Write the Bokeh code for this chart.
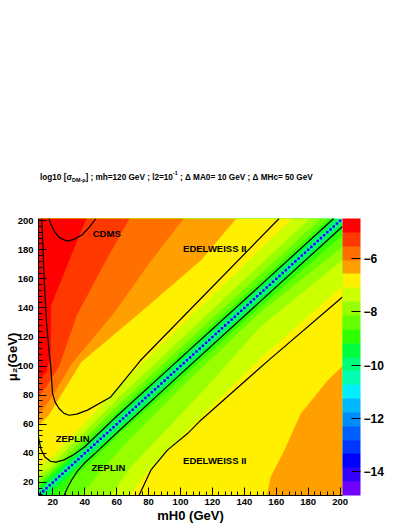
from bokeh.plotting import figure
from bokeh.layouts import column
from bokeh.models import (ColumnDataSource, LinearColorMapper, ColorBar, FixedTicker,
                          SingleIntervalTicker, Div)
from bokeh.transform import transform
from bokeh.core.properties import value
from bokeh.embed import file_html
from bokeh.resources import INLINE

FONT = "Liberation Sans"

# ---------------------------------------------------------------- data
mass_lo, mass_hi = 11.0, 201.5           # histogram edges (GeV) on both axes
z_low, z_high = -14.88, -4.51            # log10(sigma) range of the colour scale
n_contours = 20
palette = ["#7000ff", "#3300ff", "#0000ff", "#0036ff", "#0060ff", "#008cff",
           "#00b8ff", "#00f0ff", "#00ffb0", "#00ff78", "#00ff3c", "#30ff00",
           "#66ff00", "#99ff00", "#ccff00", "#fff000", "#ffa000", "#ff7000",
           "#ff3800", "#ff0000"]
cbar_ticks = [-14, -12, -10, -8, -6]

# contour-band boundaries above the diagonal (mH0, mu2), outermost first
upper_b1 = [(41, 201.5), (30, 172), (19, 142), (18.5, 108), (16, 96), (11, 91)]
upper_b2 = [(68, 201.5), (52, 170), (35, 135), (24, 100), (16, 86), (11, 79)]
upper_b3 = [(102, 201.5), (80, 170), (58, 136), (32, 102), (19, 78), (11, 66)]
upper_b4 = [(135, 201.5), (113, 173), (75, 137), (38, 103), (24, 78), (18, 67), (11, 59)]
upper_b5 = [(170, 201.5), (110, 138), (60, 85), (35, 55), (20, 38), (11, 31)]
upper_b6 = [(181, 201.5), (120, 139), (60, 77), (30, 44), (18, 30), (11, 25)]
upper_b7 = [(188, 201.5), (120, 133), (60, 72), (30, 40), (18, 27), (11, 21.5)]
upper_b8 = [(193, 201.5), (120, 128.5), (60, 68), (30, 37), (11, 18)]
upper_b9 = [(196.5, 201.5), (120, 125.5), (60, 65.5), (30, 35), (11, 15.5)]
upper_b10 = [(199, 201.5), (120, 123), (11, 13.5)]
upper_bounds = [upper_b1, upper_b2, upper_b3, upper_b4, upper_b5,
                upper_b6, upper_b7, upper_b8, upper_b9, upper_b10]
upper_band = [19, 18, 17, 16, 15, 14, 13, 12, 11, 10]   # band outside each boundary

# contour-band boundaries below the diagonal (mH0, mu2), outermost first
lower_b4 = [(154, 11), (156.6, 24), (165, 42), (175.4, 67.4), (192, 90), (201.5, 100)]
lower_b5 = [(68, 11), (80, 28), (95, 45), (110, 62), (150, 105), (201.5, 155)]
lower_b6 = [(56, 11), (70, 32), (90, 55), (120, 90), (150, 127), (201.5, 173)]
lower_b7 = [(38, 11), (50, 28), (70, 52), (100, 85), (150, 137), (201.5, 182)]
lower_b8 = [(24, 11), (35, 25), (60, 51.5), (100, 91), (150, 141), (201.5, 190)]
lower_b9 = [(17, 11), (30, 25), (60, 55), (201.5, 195)]
lower_b10 = [(14, 11), (201.5, 198.5)]
lower_bounds = [lower_b4, lower_b5, lower_b6, lower_b7, lower_b8, lower_b9, lower_b10]
lower_band = [16, 15, 14, 13, 12, 11, 10]
core_band = 9

# cells on the diagonal mu2 = mH0 (2 GeV bins) and their value
diag_mass = list(range(12, 201, 2))
diag_z = [-14.3] * len(diag_mass)

# experimental limits (mH0, mu2)
cdms = [(17.5, 201.5), (19, 197), (21, 192.5), (24, 188.5), (28.5, 186), (33, 187),
        (38, 190), (42.5, 195), (47, 201.5)]
edelweiss_up = [(13, 201.5), (13.5, 190), (14.5, 161), (16, 130), (17.5, 112), (18.7, 99.4),
                (19.8, 81.2), (21.5, 75), (23.9, 70.8), (27, 67.5), (30.2, 66.2), (35, 67),
                (41.7, 69.7), (56.3, 78.8), (75, 104), (112.8, 146.5), (161.8, 201.5)]
edelweiss_lo = [(74, 11), (77, 18), (81.4, 28.4), (91.8, 42.2), (104.4, 53.6),
                (112.7, 62.8), (155.5, 104.3), (201.5, 147.5)]
zeplin_up = [(11, 51), (12.5, 43), (15, 37.5), (18.5, 34.5), (22, 34), (27, 35.5),
             (33, 39), (40, 44.5), (60, 65.5), (100, 105.5), (150, 155.5), (196, 201.5)]
zeplin_lo = [(27, 11), (29, 16), (32, 22), (35.5, 28), (40, 33.5), (47, 40.5), (60, 54),
             (100, 94.5), (150, 144.5), (201.5, 196)]

limit_names = ["CDMS", "EDELWEISS II", "ZEPLIN", "ZEPLIN", "EDELWEISS II"]
limit_label_x = [45.0, 101.6, 21.8, 44.2, 101.6]
limit_label_y = [191.0, 180.9, 50.2, 30.3, 35.3]

# ---------------------------------------------------------------- layout sizes
W = 384
TH = 200                    # height of the title strip
FW, FH = 304, 277
BL, BT = 38, 18

# ---------------------------------------------------------------- title strip
sub_css = "font-size:5.4px;vertical-align:-1.9px;line-height:0"
sup_css = "font-size:5.4px;vertical-align:5.1px;line-height:0"
title_html = (
    '<div style="padding:172.9px 0 0 40px;margin:0;font-family:\'Liberation Sans\';'
    'font-weight:bold;font-size:8.2px;line-height:10px;white-space:nowrap;color:black">'
    'log10 [σ<span style="' + sub_css + '">DM-p</span>] ; mh=120 GeV ; l2=10'
    '<span style="' + sup_css + '">-1</span> ; Δ MA0= 10 GeV ; Δ MHc= 50 GeV</div>'
)
title_div = Div(text=title_html, width=W, height=TH, margin=0)

# ---------------------------------------------------------------- main plot
p = figure(frame_width=FW, frame_height=FH, x_range=(mass_lo, mass_hi),
           y_range=(mass_lo, mass_hi), output_backend="svg", toolbar_location=None,
           min_border_left=BL, min_border_top=BT, min_border_right=10, min_border_bottom=10)
p.background_fill_color = "white"
p.border_fill_color = "white"
p.outline_line_color = None
p.xgrid.visible = False
p.ygrid.visible = False

mapper = LinearColorMapper(palette=palette, low=z_low, high=z_high)
step = (z_high - z_low) / n_contours


def band_z(i):
    return z_low + (i + 0.5) * step


xs, ys, zs = [], [], []
# the whole frame starts in the band around the diagonal
xs.append([mass_lo, mass_hi, mass_hi, mass_lo])
ys.append([mass_lo, mass_lo, mass_hi, mass_hi])
zs.append(band_z(core_band))
for bound, band in reversed(list(zip(upper_bounds, upper_band))):
    xs.append([pt[0] for pt in bound] + [mass_lo])
    ys.append([pt[1] for pt in bound] + [mass_hi])
    zs.append(band_z(band))
for bound, band in reversed(list(zip(lower_bounds, lower_band))):
    xs.append([pt[0] for pt in bound] + [mass_hi])
    ys.append([pt[1] for pt in bound] + [mass_lo])
    zs.append(band_z(band))

p.patches("xs", "ys", source=ColumnDataSource(dict(xs=xs, ys=ys, z=zs)),
          fill_color=transform("z", mapper), line_color=None)

p.rect(x="m", y="m", width=1.6, height=1.75,
       source=ColumnDataSource(dict(m=diag_mass, z=diag_z)),
       fill_color=transform("z", mapper), line_color=None)

for curve in [cdms, edelweiss_up, edelweiss_lo, zeplin_up, zeplin_lo]:
    p.line([pt[0] for pt in curve], [pt[1] for pt in curve], line_color="black",
           line_width=1.2)

p.text(x=limit_label_x, y=limit_label_y, text=limit_names, text_font=value(FONT),
       text_font_style="bold", text_font_size="9.5px", text_color="black",
       text_baseline="alphabetic", text_align="left")

# axes
for ax in (p.xaxis[0], p.yaxis[0]):
    ax.ticker = SingleIntervalTicker(interval=20, num_minor_ticks=5)
    ax.major_tick_in = 8
    ax.major_tick_out = 0
    ax.minor_tick_in = 4
    ax.minor_tick_out = 0
    ax.major_tick_line_color = "black"
    ax.minor_tick_line_color = "black"
    ax.axis_line_color = "black"
    ax.major_label_text_font = FONT
    ax.major_label_text_font_style = "bold"
    ax.major_label_text_font_size = "9.5px"
    ax.major_label_text_color = "black"
    ax.axis_label_text_font = FONT
    ax.axis_label_text_font_style = "bold"
    ax.axis_label_text_font_size = "13px"
    ax.axis_label_text_color = "black"
p.yaxis.major_label_standoff = 5
p.xaxis.major_label_standoff = 3
p.xaxis.axis_label_standoff = 0
p.yaxis.axis_label_standoff = -5
p.xaxis.axis_label = "mH0 (GeV)"
p.yaxis.axis_label = "μ₂(GeV)"

cb = ColorBar(color_mapper=mapper, ticker=FixedTicker(ticks=cbar_ticks), width=18,
              margin=0, padding=0, label_standoff=3,
              major_label_text_font=FONT, major_label_text_font_style="bold",
              major_label_text_font_size="12px", major_label_text_color="black",
              major_tick_in=9, major_tick_out=0, major_tick_line_color="black",
              minor_tick_line_color=None, bar_line_color=None, border_line_color=None,
              background_fill_color=None)
p.add_layout(cb, "right")

layout = column(title_div, p, spacing=0)
open("out.html", "w").write(file_html(layout, INLINE))
